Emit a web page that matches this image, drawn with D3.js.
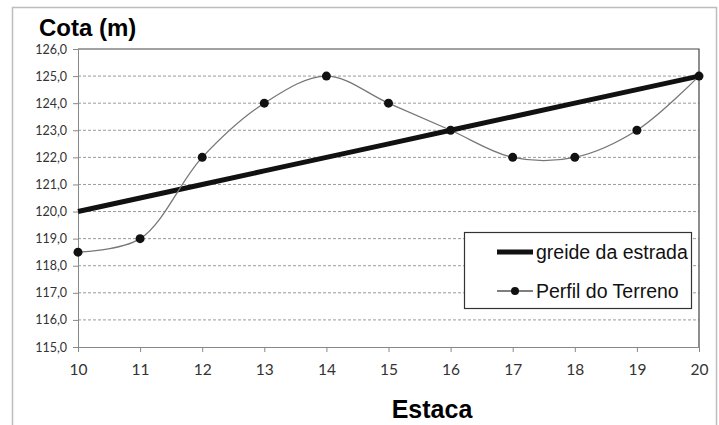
<!DOCTYPE html>
<html><head><meta charset="utf-8">
<script src="https://cdn.jsdelivr.net/npm/d3@7"></script>
<style>body{margin:0;background:#fff}svg{display:block}</style>
</head><body>
<svg id="c" width="719" height="425"></svg>
<script>
const estacas = [10,11,12,13,14,15,16,17,18,19,20];
const perfilTerreno = [118.5,119,122,124,125,124,123,122,122,123,125];
const greide = [120,120.5,121,121.5,122,122.5,123,123.5,124,124.5,125];
const yTicks = [115,116,117,118,119,120,121,122,123,124,125,126];

const svg = d3.select("#c");
const L=78, R=699, T=49, B=347;
const x = d3.scaleLinear().domain([10,20]).range([L,R]);
const y = d3.scaleLinear().domain([115,126]).range([B,T]);

// outer frame
svg.append("rect").attr("x",12.5).attr("y",7.5).attr("width",704).attr("height",430)
  .attr("fill","#fff").attr("stroke","#bdbdbd").attr("stroke-width",1.5);

// grid
svg.append("g").selectAll("line").data(yTicks.filter(d=>d>115&&d<126)).join("line")
  .attr("x1",L).attr("x2",R).attr("y1",d=>y(d)).attr("y2",d=>y(d))
  .attr("stroke","#9a9a9a").attr("stroke-width",1).attr("stroke-dasharray","3,2");

// plot border top/right
svg.append("path").attr("d",`M${L},${T}H${R}V${B}`).attr("fill","none").attr("stroke","#444").attr("stroke-width",1.2);

// axes
const fmt = d=>d.toFixed(1).replace(".",",");
const ya = svg.append("g").attr("transform",`translate(${L},0)`)
  .call(d3.axisLeft(y).tickValues(yTicks).tickFormat(fmt).tickSize(5).tickPadding(6));
ya.select(".domain").attr("stroke","#888");
ya.selectAll(".tick line").attr("stroke","#888");
ya.selectAll("text").attr("font-family","Lato, 'Open Sans', sans-serif").attr("font-size",12.5).attr("fill","#333");

const xa = svg.append("g").attr("transform",`translate(0,${B})`)
  .call(d3.axisBottom(x).tickValues(estacas).tickFormat(d3.format("d")).tickSize(5).tickPadding(12));
xa.select(".domain").attr("stroke","#888");
xa.selectAll(".tick line").attr("stroke","#888");
xa.selectAll("text").attr("font-family","Lato, 'Open Sans', sans-serif").attr("font-size",15.5).attr("fill","#333");

// greide
svg.append("path").datum(estacas.map((e,i)=>[e,greide[i]]))
  .attr("d",d3.line().x(d=>x(d[0])).y(d=>y(d[1])))
  .attr("fill","none").attr("stroke","#111").attr("stroke-width",5).attr("stroke-linecap","butt");

// terreno
const pts = estacas.map((e,i)=>[e,perfilTerreno[i]]);
svg.append("path").datum(pts)
  .attr("d",d3.line().x(d=>x(d[0])).y(d=>y(d[1])).curve(d3.curveCatmullRom.alpha(0.5)))
  .attr("fill","none").attr("stroke","#777").attr("stroke-width",1.3);
svg.append("g").selectAll("circle").data(pts).join("circle")
  .attr("cx",d=>x(d[0])).attr("cy",d=>y(d[1])).attr("r",4.5).attr("fill","#111");

// titles
svg.append("text").attr("x",39).attr("y",36).text("Cota (m)")
  .attr("font-family","Liberation Sans, Arial, sans-serif").attr("font-weight","bold").attr("font-size",24).attr("fill","#000");
svg.append("text").attr("x",432).attr("y",418).attr("text-anchor","middle").text("Estaca")
  .attr("font-family","Liberation Sans, Arial, sans-serif").attr("font-weight","bold").attr("font-size",25).attr("fill","#000");

// legend
const lg = svg.append("g");
lg.append("rect").attr("x",464.5).attr("y",232.5).attr("width",227).attr("height",76)
  .attr("fill","#fff").attr("stroke","#333").attr("stroke-width",1.2);
lg.append("line").attr("x1",497).attr("x2",533).attr("y1",252).attr("y2",252).attr("stroke","#111").attr("stroke-width",5);
lg.append("text").attr("x",536).attr("y",259).text("greide da estrada")
  .attr("font-family","Liberation Sans, Arial, sans-serif").attr("font-size",19.5).attr("fill","#111");
lg.append("line").attr("x1",497).attr("x2",533).attr("y1",291).attr("y2",291).attr("stroke","#555").attr("stroke-width",1.3);
lg.append("circle").attr("cx",515).attr("cy",291).attr("r",4).attr("fill","#111");
lg.append("text").attr("x",536).attr("y",298).text("Perfil do Terreno")
  .attr("font-family","Liberation Sans, Arial, sans-serif").attr("font-size",19.5).attr("fill","#111");
</script>
</body></html>
